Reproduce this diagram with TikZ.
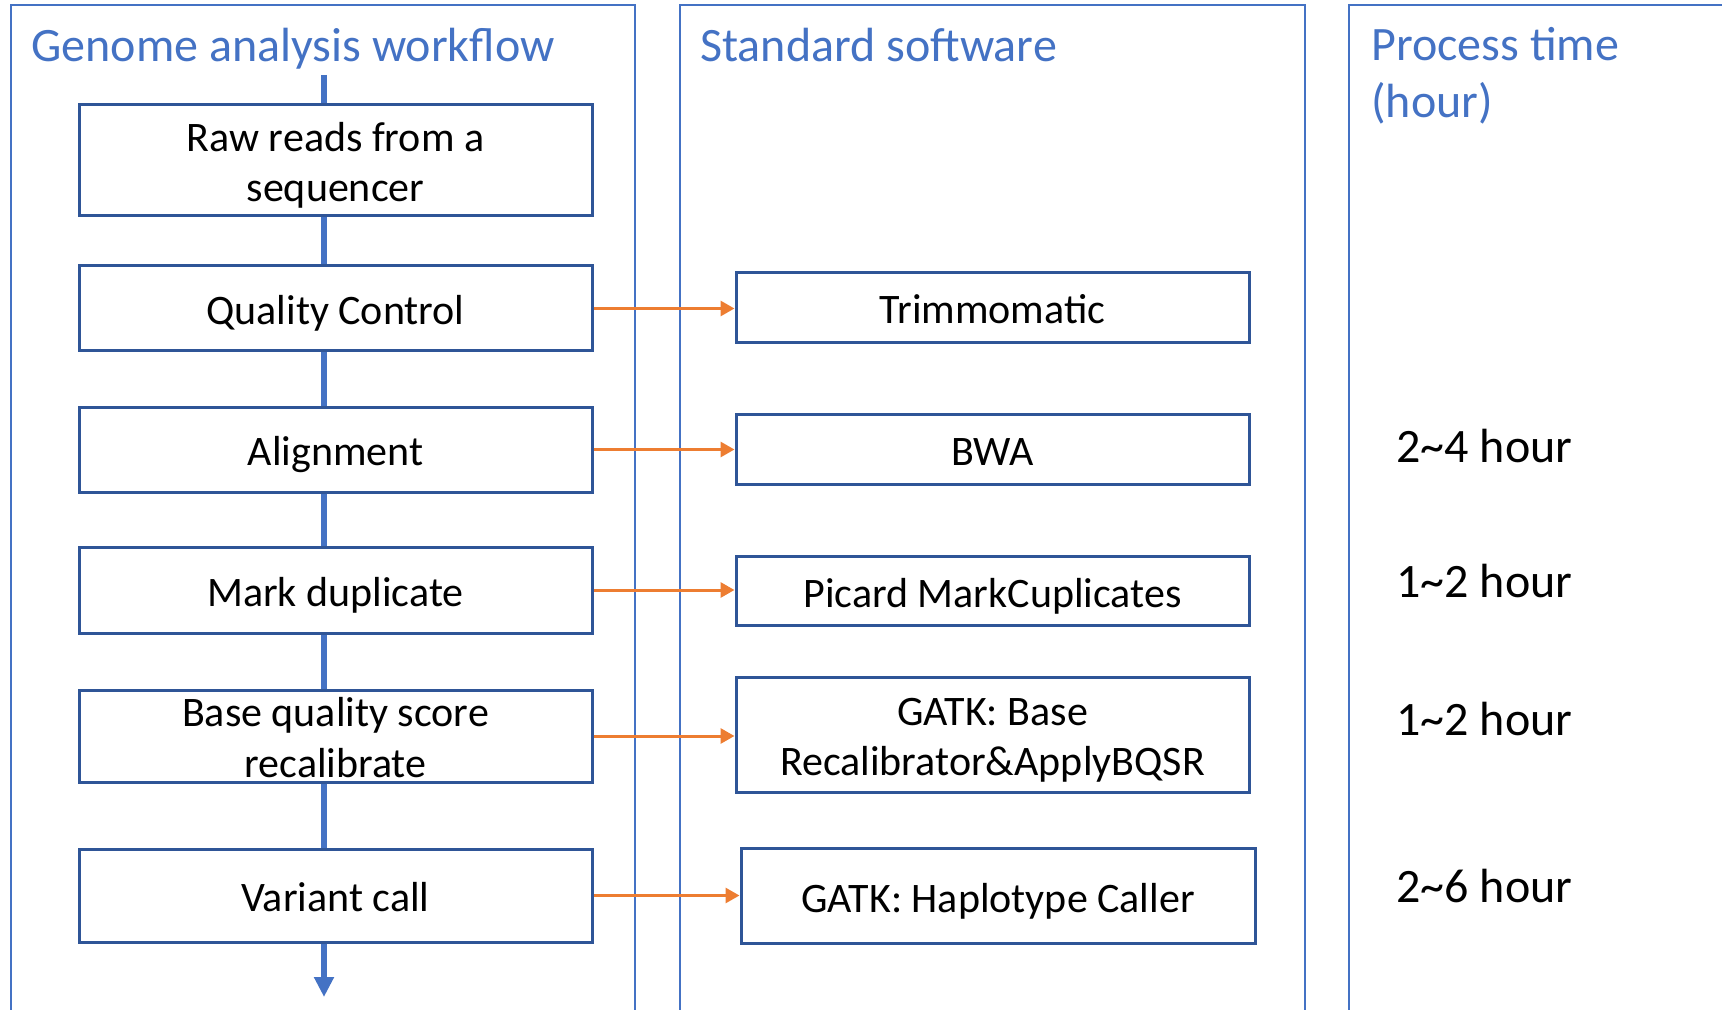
\documentclass[tikz,border=0pt]{standalone}
\usepackage{fontspec}
\setmainfont{Carlito}
\usetikzlibrary{arrows.meta}
\definecolor{panelblue}{HTML}{4472C4}
\definecolor{boxblue}{HTML}{2F5597}
\definecolor{linkorange}{HTML}{ED7D31}
\newcommand{\topstrut}[1][22pt]{\rule{0pt}{#1}}
\newcommand{\botstrut}[1][6pt]{\rule[-#1]{0pt}{#1}}
\begin{document}
\begin{tikzpicture}[x=0.5pt,y=-0.5pt,
  panel/.style={draw=panelblue, line width=1.25pt},
  title/.style={text=panelblue, font=\fontsize{24}{28.5}\selectfont, inner sep=0pt, anchor=base west},
  stage/.style={draw=boxblue, line width=1.5pt, fill=white, align=center, inner sep=0pt,
                minimum width=256.5pt, font=\fontsize{21}{25.3}\selectfont},
  oneline/.style={stage, execute at begin node={\topstrut}, execute at end node={\botstrut}},
  flow/.style={draw=panelblue, line width=3pt},
  link/.style={draw=linkorange, line width=1.5pt, -{Triangle[width=7.5pt,length=7pt]}},
  timelbl/.style={font=\fontsize{24}{28}\selectfont, inner sep=0pt, anchor=west}]
\useasboundingbox (0,0) rectangle (1722,1010);

% panels
\draw[panel] (11,1010) -- (11,5) -- (635,5) -- (635,1010);
\draw[panel] (680,1010) -- (680,5) -- (1305,5) -- (1305,1010);
\draw[panel] (1349,1010) -- (1349,5) -- (1722,5);

% titles
\node[title] (h1) at (31,62) {Genome analysis workflow};
\node[title] (h2) at (700,62) {Standard software};
\node[title, align=left, anchor=north west] (h3) at (1371,27) {Process time\\(hour)};

% workflow stages
\node[stage, minimum height=55.5pt] (s1) at (335.5,160.5) {\topstrut Raw reads from a\\sequencer\botstrut};
\node[oneline, minimum height=42.5pt] (s2) at (335.5,308.5) {Quality Control};
\node[oneline, minimum height=42.5pt] (s3) at (335.5,449.5) {Alignment};
\node[oneline, minimum height=43pt]   (s4) at (335.5,590) {Mark duplicate};
\node[stage, minimum height=46pt]   (s5) at (335.5,736) {\topstrut[18pt]Base quality score\\recalibrate\botstrut[2pt]};
\node[oneline, minimum height=46.5pt] (s6) at (335.5,895.5) {Variant call};

% software
\node[oneline, minimum height=35pt]   (t2) at (992.5,308) {Trimmomatic};
\node[oneline, minimum height=35pt]   (t3) at (992.5,449) {BWA};
\node[oneline, minimum height=34.5pt] (t4) at (992.5,591) {Picard MarkCuplicates};
\node[stage, minimum height=57.5pt] (t5) at (992.5,734.5) {\topstrut GATK: Base\\Recalibrator\&ApplyBQSR\botstrut};
\node[oneline, minimum height=47.5pt, minimum width=257pt] (t6) at (998,896) {GATK: Haplotype Caller};

% process times
\node[timelbl] (p3) at (1396,446) {2\textasciitilde4 hour};
\node[timelbl] (p4) at (1396,581) {1\textasciitilde2 hour};
\node[timelbl] (p5) at (1396,719) {1\textasciitilde2 hour};
\node[timelbl] (p6) at (1396,886) {2\textasciitilde6 hour};

% main flow line
\coordinate (ftop) at (324,75);
\coordinate (fend) at (324,997);
\draw[flow] (ftop) -- (ftop |- s1.north);
\draw[flow] (s1.south -| ftop) -- (s2.north -| ftop);
\draw[flow] (s2.south -| ftop) -- (s3.north -| ftop);
\draw[flow] (s3.south -| ftop) -- (s4.north -| ftop);
\draw[flow] (s4.south -| ftop) -- (s5.north -| ftop);
\draw[flow] (s5.south -| ftop) -- (s6.north -| ftop);
\draw[flow, -{Triangle[width=9.5pt,length=10pt]}] (s6.south -| ftop) -- (fend);

% links
\draw[link] (s2.east) -- (s2.east -| t2.west);
\draw[link] (s3.east) -- (s3.east -| t3.west);
\draw[link] (s4.east) -- (s4.east -| t4.west);
\draw[link] (s5.east) -- (s5.east -| t5.west);
\draw[link] (s6.east) -- (s6.east -| t6.west);
\end{tikzpicture}
\end{document}
